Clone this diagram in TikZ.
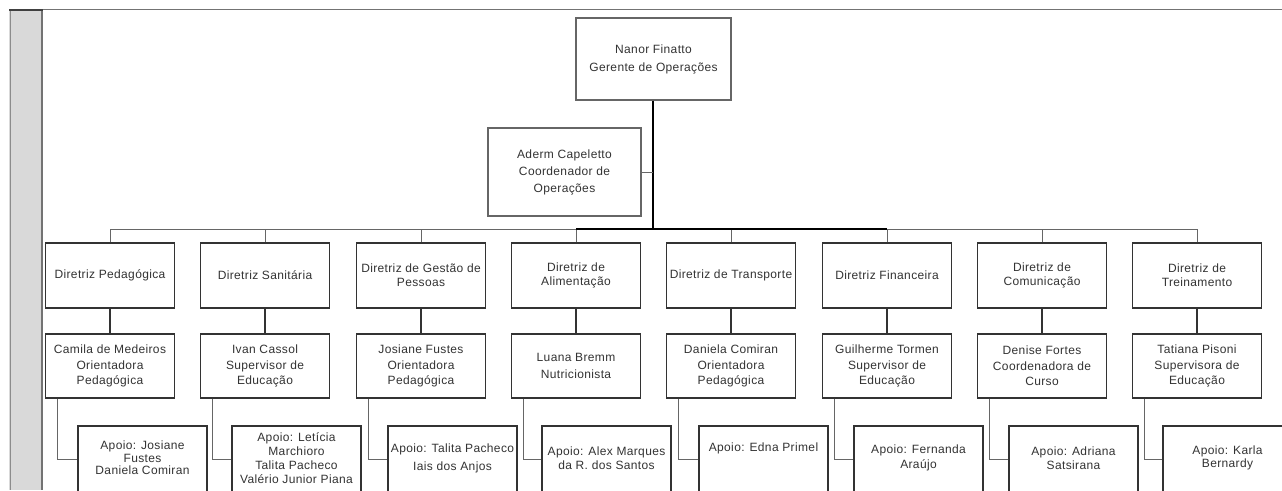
\documentclass[tikz,border=0pt]{standalone}
\usepackage{fontspec}
\setmainfont{Liberation Sans}[LetterSpace=3]
\begin{document}
\begin{tikzpicture}[x=1pt,y=-1pt,
  txt/.style={align=center,inner sep=0pt,text=black!80,font=\fontsize{12}{14}\selectfont},
  topbox/.style={draw=black!60,line width=1.1pt,minimum width=155pt,minimum height=82pt,inner sep=0pt,align=center,text=black!80,font=\fontsize{12}{18}\selectfont},
  coordbox/.style={draw=black!60,line width=1.1pt,minimum width=153pt,minimum height=88pt,inner sep=0pt,align=center,text=black!80,font=\fontsize{12}{17}\selectfont},
  dirbox/.style={draw=black!80,line width=1.2pt,minimum width=129pt,minimum height=65pt,inner sep=0pt,align=center,text=black!80,font=\fontsize{12}{14}\selectfont},
  pessbox/.style={draw=black!80,line width=1.2pt,minimum width=129pt,minimum height=64pt,inner sep=0pt,align=center,text=black!80,font=\fontsize{12}{15.5}\selectfont},
  apoiobox/.style={draw=black!80,line width=1.2pt,minimum width=129pt,minimum height=72pt,inner sep=0pt},
  thinline/.style={draw=black!60,line width=0.9pt},
  darkline/.style={draw=black!80,line width=1.2pt},
  thickline/.style={draw=black,line width=2pt}
]
\useasboundingbox (0,0) rectangle (1282,490);
\clip (0,0) rectangle (1282,490);
\fill[white] (0,0) rectangle (1282,490);
% left gray bar and top rule
\fill[black!15] (9,9) rectangle (43,490);
\draw[black!45,line width=1pt] (10,9) -- (10,490);
\draw[black!55,line width=2pt] (42,9) -- (42,490);
\fill[black!75] (9,8.5) rectangle (43,11);
\draw[black!55,line width=1pt] (43,9.5) -- (1282,9.5);

% top nodes
\node[topbox] (top) at (653.5,59) {Nanor Finatto\\Gerente de Operações};
\node[coordbox] (coord) at (564.5,172) {Aderm Capeletto\\Coordenador de\\Operações};
\coordinate (bus) at (653,229);

% directorates
\node[dirbox] (d1) at (110,275.5) {Diretriz Pedagógica};
\node[dirbox] (d2) at (265,275.5) {Diretriz Sanitária};
\node[dirbox] (d3) at (421,275.5) {Diretriz de Gestão de\\Pessoas};
\node[dirbox] (d4) at (576,275.5) {Diretriz de\\Alimentação};
\node[dirbox] (d5) at (731,275.5) {Diretriz de Transporte};
\node[dirbox] (d6) at (887,275.5) {Diretriz Financeira};
\node[dirbox] (d7) at (1042,275.5) {Diretriz de\\Comunicação};
\node[dirbox] (d8) at (1197,275.5) {Diretriz de\\Treinamento};

% people
\node[pessbox] (r1) at (110,366) {Camila de Medeiros\\Orientadora\\Pedagógica};
\node[pessbox] (r2) at (265,366) {Ivan Cassol\\Supervisor de\\Educação};
\node[pessbox] (r3) at (421,366) {Josiane Fustes\\Orientadora\\Pedagógica};
\node[pessbox,font=\fontsize{12}{17}\selectfont] (r4) at (576,366) {Luana Bremm\\Nutricionista};
\node[pessbox] (r5) at (731,366) {Daniela Comiran\\Orientadora\\Pedagógica};
\node[pessbox] (r6) at (887,366) {Guilherme Tormen\\Supervisor de\\Educação};
\node[pessbox] (r7) at (1042,366) {Denise Fortes\\Coordenadora de\\Curso};
\node[pessbox] (r8) at (1197,366) {Tatiana Pisoni\\Supervisora de\\Educação};

% support boxes
\node[apoiobox] (p1) at (142.5,462) {};
\node[apoiobox] (p2) at (296.5,462) {};
\node[apoiobox] (p3) at (452.5,462) {};
\node[apoiobox] (p4) at (606.5,462) {};
\node[apoiobox] (p5) at (763.5,462) {};
\node[apoiobox] (p6) at (918.5,462) {};
\node[apoiobox] (p7) at (1073.5,462) {};
\node[apoiobox] (p8) at (1227.5,462) {};

\node[txt,font=\fontsize{12}{12.5}\selectfont] (t1) at ([yshift=4pt]p1.center) {Apoio: Josiane\\Fustes\\Daniela Comiran};
\node[txt] (t2) at ([yshift=4pt]p2.center) {Apoio: Letícia\\Marchioro\\Talita Pacheco\\Valério Junior Piana};
\node[txt,font=\fontsize{12}{18}\selectfont] (t3) at ([yshift=4pt]p3.center) {Apoio: Talita Pacheco\\Iais dos Anjos};
\node[txt] (t4) at ([yshift=4pt]p4.center) {Apoio: Alex Marques\\da R. dos Santos};
\node[txt] (t5) at ([yshift=14pt]p5.center) {Apoio: Edna Primel};
\node[txt,font=\fontsize{12}{15}\selectfont] (t6) at ([yshift=4pt]p6.center) {Apoio: Fernanda\\Araújo};
\node[txt] (t7) at ([yshift=4pt]p7.center) {Apoio: Adriana\\Satsirana};
\node[txt,font=\fontsize{12}{12.5}\selectfont] (t8) at ([yshift=4pt]p8.center) {Apoio: Karla\\Bernardy};

% connectors: bus
\draw[thinline] (d1.north |- bus) -- (d8.north |- bus);
\foreach \i in {1,...,8} {
  \draw[thinline] (d\i.north) -- (d\i.north |- bus);
}
\draw[thickline] (d4.north |- bus) -- (d6.north |- bus);
\draw[thickline] (top.south -| bus) -- (bus);
\draw[thinline] (coord.east) -- (coord.east -| bus);

% directorate to person
\foreach \i in {1,...,8} {
  \draw[darkline] (d\i.south) -- (r\i.north);
  \draw[thinline] ([xshift=13pt]r\i.south west) |- ([yshift=3pt]p\i.west);
}
\end{tikzpicture}
\end{document}
